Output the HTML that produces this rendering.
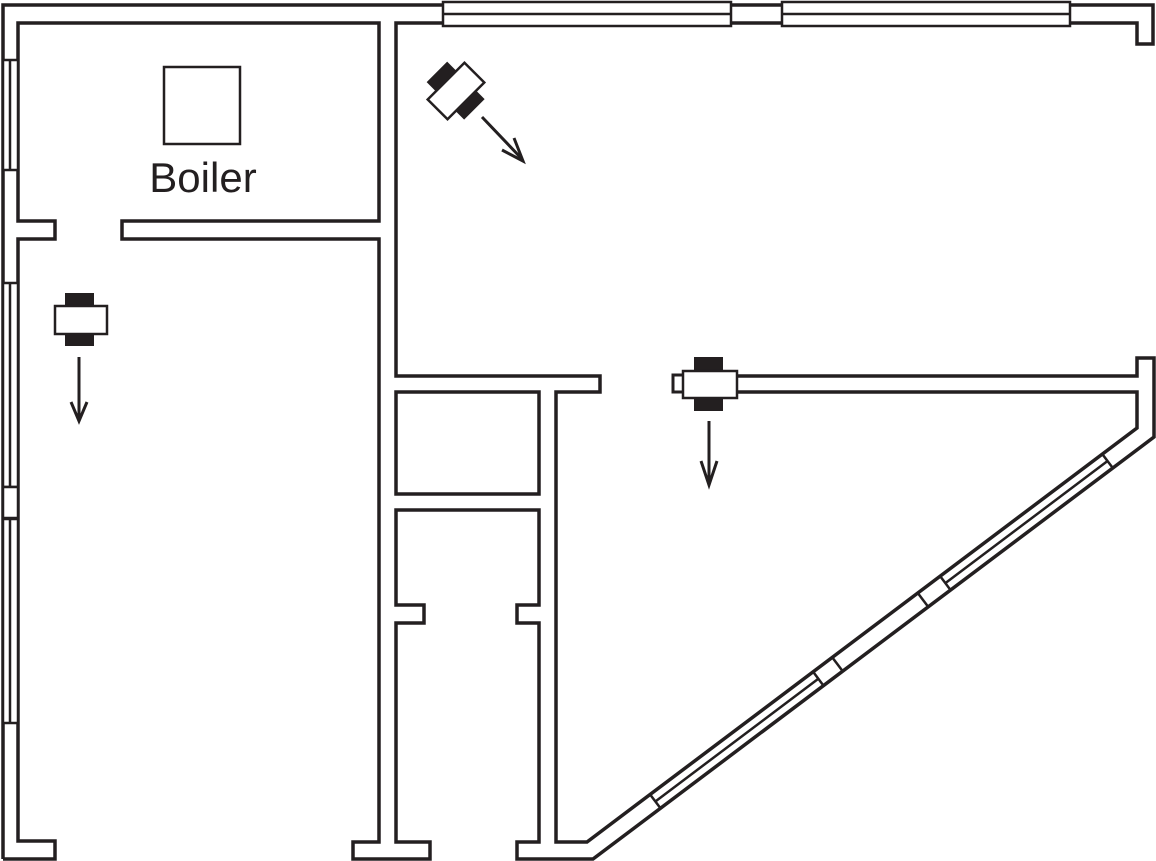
<!DOCTYPE html>
<html><head><meta charset="utf-8"><style>html,body{margin:0;padding:0;background:#fff}svg{display:block}</style></head>
<body>
<svg width="1156" height="861" viewBox="0 0 1156 861" xmlns="http://www.w3.org/2000/svg">
<g fill="none" stroke="#231f20" stroke-width="3.5" stroke-linejoin="miter" stroke-linecap="butt">
<path d="M3,859 V5 H1153 V44 H1137 V23 H396 V376 H600 V392 H556 V842 H587 L1137,428 V392 H737"/>
<path d="M737,376 H1137 V358 H1154 V437 L593,859 H517 V842 H539 V623 H517 V605 H539 V510 H396 V605 H424 V623 H396 V842 H430 V859 H353 V842 H379 V239 H122 V221 H379 V23 H18 V221 H55 V239 H18 V841 H55 V859 H3"/>
<rect x="396" y="392" width="143" height="102"/>
<rect x="164" y="67" width="76" height="77" stroke-width="2.5"/>
</g>
<g fill="#fff" stroke="#231f20" stroke-width="2.5">
<rect x="443" y="2" width="288" height="24"/>
<rect x="782" y="2" width="288" height="24"/>
<rect x="3" y="60" width="15" height="110"/>
<rect x="3" y="283" width="15" height="204"/>
<rect x="3" y="487" width="15" height="31"/>
<rect x="3" y="519" width="15" height="204"/>
</g>
<g stroke="#231f20" stroke-width="2.5">
<line x1="443" y1="14" x2="731" y2="14"/>
<line x1="782" y1="14" x2="1070" y2="14"/>
<line x1="10" y1="60" x2="10" y2="170"/>
<line x1="10" y1="283" x2="10" y2="487"/>
<line x1="10" y1="519" x2="10" y2="723"/>
</g>
<g transform="translate(587,842) rotate(-36.97)" stroke="#231f20" stroke-width="2.5">
<line x1="79" y1="0" x2="79" y2="17.4"/>
<line x1="283" y1="0" x2="283" y2="17.4"/>
<line x1="307" y1="0" x2="307" y2="17.4"/>
<line x1="414" y1="0" x2="414" y2="17.4"/>
<line x1="442" y1="0" x2="442" y2="17.4"/>
<line x1="645" y1="0" x2="645" y2="17.4"/>
<line x1="79" y1="8.7" x2="283" y2="8.7"/>
<line x1="442" y1="8.7" x2="645" y2="8.7"/>
</g>
<g>
<rect x="65" y="293" width="29" height="13" fill="#231f20"/>
<rect x="65" y="334" width="29" height="12" fill="#231f20"/>
<rect x="55" y="306" width="52" height="28" fill="#fff" stroke="#231f20" stroke-width="2.5"/>
</g>
<g transform="translate(456,91) rotate(-45)">
<rect x="-14.5" y="-27" width="29" height="13" fill="#231f20"/>
<rect x="-14.5" y="14" width="29" height="12" fill="#231f20"/>
<rect x="-26" y="-14" width="52" height="28" fill="#fff" stroke="#231f20" stroke-width="2.5"/>
</g>
<rect x="673" y="375" width="12" height="17" fill="#fff" stroke="#231f20" stroke-width="3"/>
<rect x="694" y="357" width="29" height="14" fill="#231f20"/>
<rect x="694" y="398" width="29" height="13" fill="#231f20"/>
<rect x="683" y="371" width="54" height="27" fill="#fff" stroke="#231f20" stroke-width="2.5"/>
<g fill="none" stroke="#231f20" stroke-width="3">
<line x1="79" y1="357" x2="79" y2="420"/>
<path d="M71,402 L79,421 L87,402"/>
<line x1="709" y1="421" x2="709" y2="484"/>
<path d="M701,461 L709,485 L717,461"/>
<line x1="482" y1="117" x2="522" y2="159"/>
<path d="M502,150 L523,161 L514,138"/>
</g>
<text x="203" y="192" font-family="Liberation Sans, sans-serif" font-size="42" fill="#231f20" text-anchor="middle">Boiler</text>
</svg>
</body></html>
